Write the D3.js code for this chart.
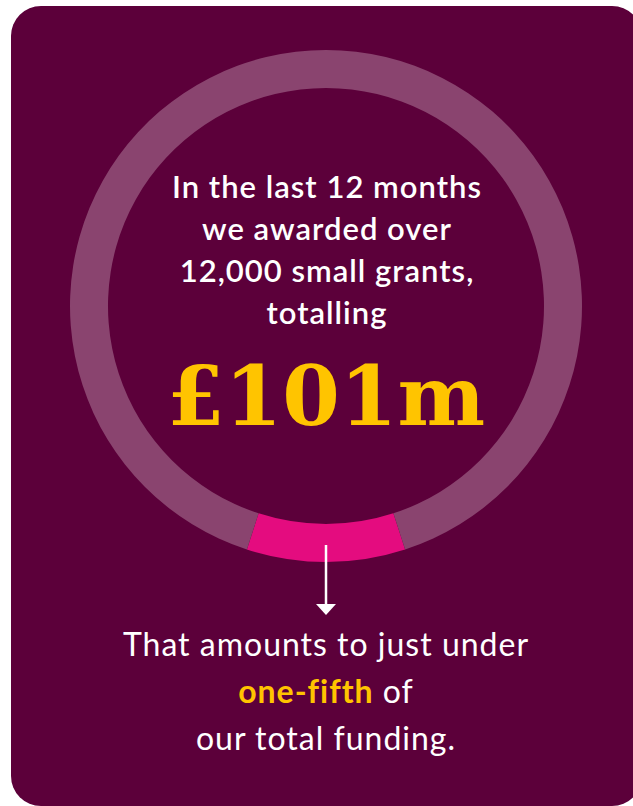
<!DOCTYPE html>
<html>
<head>
<meta charset="utf-8">
<script src="https://cdn.jsdelivr.net/npm/d3@7"></script>
<style>
  html, body { margin: 0; padding: 0; background: #fff; }
  svg { display: block; }
</style>
</head>
<body>
<div id="chart"></div>
<script>
// share of ring (pink arc ~36deg of 360)
var segments = ['Small grants', 'Other funding'];
var segmentValues = [10, 90];
var segmentColors = ['#e40c7f', '#8a446f'];

var introLines = ['In the last 12 months', 'we awarded over', '12,000 small grants,', 'totalling'];
var bigFigure = '\u00a3101m';
var footLines = [
    [{ t: 'That amounts to just under', hl: false }],
    [{ t: 'one-fifth', hl: true }, { t: ' of', hl: false }],
    [{ t: 'our total funding.', hl: false }]
];

var width = 633, height = 806;
var cx = 326, cy = 306, outerR = 256, innerR = 218;

var svg = d3.select('#chart').append('svg')
    .attr('width', width)
    .attr('height', height);

// panel
svg.append('rect')
    .attr('x', 11).attr('y', 6)
    .attr('width', 631).attr('height', 800)
    .attr('rx', 30).attr('ry', 30)
    .attr('fill', '#5c003a');

// ring
var pie = d3.pie().sort(null)
    .startAngle(Math.PI - Math.PI * segmentValues[0] / 100)
    .endAngle(Math.PI - Math.PI * segmentValues[0] / 100 + 2 * Math.PI);

var arc = d3.arc().innerRadius(innerR).outerRadius(outerR);

var ring = svg.append('g').attr('transform', 'translate(' + cx + ',' + cy + ')');
ring.selectAll('path')
    .data(pie(segmentValues))
    .enter().append('path')
    .attr('d', arc)
    .attr('fill', function (d, i) { return segmentColors[i]; });

// text inside ring
var sans = 'Lato, "Open Sans", "Noto Sans", sans-serif';
svg.append('g').selectAll('text')
    .data(introLines)
    .enter().append('text')
    .attr('x', cx + 1)
    .attr('y', function (d, i) { return 198 + i * 42; })
    .attr('text-anchor', 'middle')
    .attr('font-family', sans)
    .attr('font-weight', 600)
    .attr('font-size', 31)
    .attr('letter-spacing', 1)
    .attr('fill', '#ffffff')
    .text(function (d) { return d; });

svg.append('text')
    .attr('x', cx)
    .attr('y', 425)
    .attr('text-anchor', 'middle')
    .attr('font-family', '"DejaVu Serif", serif')
    .attr('font-weight', 'bold')
    .attr('font-size', 82)
    .attr('textLength', 318)
    .attr('lengthAdjust', 'spacingAndGlyphs')
    .attr('fill', '#ffc400')
    .text(bigFigure);

// arrow
svg.append('line')
    .attr('x1', cx).attr('x2', cx)
    .attr('y1', 545).attr('y2', 606)
    .attr('stroke', '#ffffff').attr('stroke-width', 2.5);
svg.append('path')
    .attr('d', d3.line()([[cx - 10, 604], [cx + 10, 604], [cx, 615]]) + 'Z')
    .attr('fill', '#ffffff');

// footnote
var foot = svg.append('g');
footLines.forEach(function (parts, i) {
    var t = foot.append('text')
        .attr('x', cx)
        .attr('y', 656 + i * 47)
        .attr('text-anchor', 'middle')
        .attr('font-family', sans)
        .attr('font-size', 32)
        .attr('letter-spacing', 1)
        .attr('fill', '#ffffff');
    t.selectAll('tspan')
        .data(parts)
        .enter().append('tspan')
        .attr('font-weight', function (d) { return d.hl ? 'bold' : 'normal'; })
        .attr('fill', function (d) { return d.hl ? '#ffc400' : '#ffffff'; })
        .style('white-space', 'pre')
        .text(function (d) { return d.t; });
});
</script>
</body>
</html>
